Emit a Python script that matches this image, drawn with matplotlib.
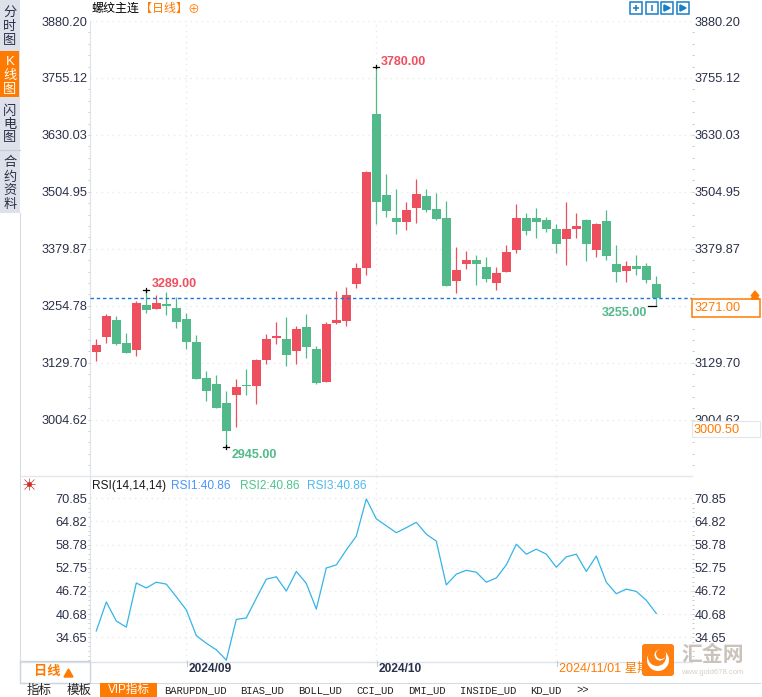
import matplotlib
matplotlib.use('Agg')
import matplotlib.pyplot as plt
from matplotlib.patches import Rectangle, FancyBboxPatch, Circle, Polygon
from matplotlib.ticker import FixedLocator

plt.rcParams['font.family'] = ['Liberation Sans', 'Noto Sans CJK SC', 'DejaVu Sans']

W = 762
H = 697

opens = [3154, 3187, 3224, 3173, 3158, 3257, 3248, 3259, 3250, 3226,
         3175, 3096, 3083, 3041, 3059, 3081, 3079, 3136, 3184, 3182,
         3156, 3208, 3160, 3087, 3217, 3221, 3303, 3338, 3676, 3498,
         3448, 3439, 3470, 3496, 3467, 3448, 3309, 3347, 3355, 3340,
         3305, 3329, 3377, 3448, 3448, 3443, 3423, 3401, 3423, 3443,
         3377, 3441, 3347, 3331, 3342, 3342, 3303]
closes = [3168, 3232, 3171, 3151, 3261, 3246, 3261, 3255, 3219, 3175,
          3094, 3068, 3030, 2980, 3077, 3079, 3136, 3182, 3188, 3147,
          3204, 3164, 3085, 3215, 3224, 3279, 3338, 3549, 3483, 3463,
          3439, 3465, 3500, 3465, 3445, 3298, 3333, 3355, 3347, 3314,
          3327, 3373, 3448, 3419, 3439, 3423, 3390, 3423, 3430, 3390,
          3434, 3364, 3329, 3342, 3336, 3311, 3271]
highs = [3182, 3237, 3232, 3195, 3265, 3289, 3279, 3285, 3274, 3239,
         3191, 3112, 3103, 3068, 3094, 3116, 3138, 3193, 3219, 3230,
         3210, 3237, 3167, 3219, 3287, 3296, 3349, 3551, 3780, 3544,
         3511, 3483, 3533, 3511, 3502, 3485, 3384, 3375, 3366, 3362,
         3340, 3388, 3478, 3459, 3470, 3450, 3434, 3483, 3459, 3445,
         3437, 3465, 3388, 3353, 3366, 3349, 3320]
lows = [3134, 3172, 3169, 3151, 3145, 3239, 3248, 3235, 3206, 3160,
        3094, 3046, 3030, 2945, 2989, 3059, 3039, 3127, 3171, 3123,
        3127, 3140, 3083, 3087, 3215, 3210, 3294, 3322, 3434, 3450,
        3412, 3421, 3437, 3461, 3443, 3298, 3283, 3336, 3300, 3307,
        3289, 3329, 3371, 3410, 3404, 3417, 3371, 3344, 3404, 3353,
        3362, 3355, 3307, 3307, 3322, 3305, 3255]
rsi = [36.3, 43.85, 38.9, 37.3, 48.8, 47.5, 49.0, 48.5, 45.2, 41.8,
       35.1, 33.1, 31.4, 28.7, 39.3, 39.7, 44.8, 49.8, 50.4, 46.7,
       51.8, 48.7, 42.0, 52.7, 53.5, 57.4, 61.0, 70.7, 65.5, 63.7,
       61.9, 63.2, 64.6, 61.5, 59.7, 48.3, 51.1, 52.1, 51.6, 49.0,
       50.1, 53.5, 58.9, 56.3, 57.6, 56.3, 52.9, 55.6, 56.3, 51.8,
       55.8, 49.0, 46.0, 47.2, 46.6, 44.3, 40.86]
price_ticks = [3880.20, 3755.12, 3630.03, 3504.95, 3379.87, 3254.78, 3129.70, 3004.62]
rsi_ticks = [70.85, 64.82, 58.78, 52.75, 46.72, 40.68, 34.65]
date_labels = ['2024/09', '2024/10']
date_idx = [9, 28, 46]
last_price = 3271

RED = '#ee4f5f'
GREEN = '#52b98a'
ORANGE = '#ff7a00'
GRID = '#e9e9e9'
TXT = '#2b3048'
AXIS = '#dde3ea'


def box(left, top, right, bottom):
    return [left / W, 1 - bottom / H, (right - left) / W, (bottom - top) / H]


def style_axis(a, ticks):
    a.set_xlim(-0.63, 59.57)
    a.set_yticks(ticks)
    a.set_yticklabels(['%.2f' % t for t in ticks], fontsize=9.2, color=TXT)
    step = (ticks[0] - ticks[1]) / 5
    minor = [ticks[0] - step * i for i in range(len(ticks) * 5 + 3)]
    a.yaxis.set_minor_locator(FixedLocator(minor))
    a.tick_params(axis='y', which='major', left=False, right=False, length=0,
                  labelleft=True, labelright=True, pad=2)
    a.tick_params(axis='y', which='minor', left=True, right=True, length=1.5,
                  width=0.7, color='#c4c8cf')
    a.set_xticks(date_idx)
    a.tick_params(axis='x', bottom=False, labelbottom=False)
    a.grid(True, axis='both', linestyle=(0, (1, 3)), color=GRID, linewidth=1)
    a.set_axisbelow(True)
    for s in ['top', 'right', 'bottom']:
        a.spines[s].set_visible(False)
    a.spines['left'].set_color(AXIS)


fig = plt.figure(figsize=(W / 100, H / 100), dpi=100, facecolor='white')

# price panel
ax = fig.add_axes(box(90, 21, 692, 476))
xs = list(range(len(opens)))
colors = [RED if c >= o else GREEN for o, c in zip(opens, closes)]
ax.vlines(xs, lows, highs, colors=colors, linewidth=0.9, zorder=3)
ax.bar(xs, [abs(c - o) for o, c in zip(opens, closes)],
       bottom=[min(o, c) for o, c in zip(opens, closes)],
       width=0.9, color=colors, linewidth=0, zorder=4)
ax.set_ylim(2881, 3880.2)
style_axis(ax, price_ticks)
# the 3271 box hides this right-hand label in the reference
ax.yaxis.get_major_ticks()[5].label2.set_visible(False)
ax.axhline(last_price, color='#1b78d8', linewidth=1, linestyle=(0, (2.5, 2)), zorder=5)

# high / low markers
i_hi = highs.index(max(highs))
i_lo = lows.index(min(lows))
ax.plot([i_hi - 0.3, i_hi + 0.3], [highs[i_hi]] * 2, color='k', lw=0.9, zorder=6)
ax.plot([i_hi, i_hi], [highs[i_hi] - 4, highs[i_hi] + 4], color='k', lw=0.9, zorder=6)
ax.text(i_hi + 0.45, highs[i_hi] + 10, '%.2f' % highs[i_hi], color=RED, fontsize=9,
        fontweight='bold', va='center', ha='left')
ax.plot([5 - 0.3, 5 + 0.3], [3289, 3289], color='k', lw=0.9, zorder=6)
ax.plot([5, 5], [3285, 3293], color='k', lw=0.9, zorder=6)
ax.text(5.5, 3303, '3289.00', color=RED, fontsize=9, fontweight='bold', va='center', ha='left')
ax.plot([i_lo - 0.3, i_lo + 0.3], [lows[i_lo]] * 2, color='k', lw=0.9, zorder=6)
ax.plot([i_lo, i_lo], [lows[i_lo] - 4, lows[i_lo] + 4], color='k', lw=0.9, zorder=6)
ax.text(i_lo + 0.5, lows[i_lo] - 18, '%.2f' % lows[i_lo], color=GREEN, fontsize=9,
        fontweight='bold', va='center', ha='left')
ax.plot([55.2, 56], [3255, 3255], color='k', lw=0.9, zorder=6)
ax.text(55.1, 3238, '3255.00', color=GREEN, fontsize=9, fontweight='bold', va='center', ha='right')

# RSI panel
ax2 = fig.add_axes(box(90, 476, 692, 661))
ax2.plot(xs, rsi, color='#35b4e8', linewidth=0.9)
ax2.set_ylim(28.48, 76.66)
style_axis(ax2, rsi_ticks)

# window chrome drawn in pixel coordinates on top
ov = fig.add_axes([0, 0, 1, 1], zorder=10)
ov.set_xlim(0, W)
ov.set_ylim(H, 0)
ov.axis('off')


def rect(x0, y0, x1, y1, fc='none', ec='none', lw=0.8, z=2):
    ov.add_patch(Rectangle((x0, y0), x1 - x0, y1 - y0, facecolor=fc, edgecolor=ec, linewidth=lw, zorder=z))


def label(x, y, s, **kw):
    kw.setdefault('va', 'center')
    kw.setdefault('ha', 'left')
    kw.setdefault('fontsize', 8.64)
    kw.setdefault('color', TXT)
    ov.text(x, y, s, zorder=kw.pop('z', 5), **kw)


# left sidebar
rect(0, 0, 20, 213, fc='#dfe1ea')
rect(0, 213, 20, 697, fc='white')
ov.plot([19.5, 19.5], [213, 683], color='#d4dbe3', lw=0.8)
rect(0, 51, 19, 97, fc=ORANGE, z=3)
ov.plot([0, 20], [149.5, 149.5], color='#c9ccd6', lw=0.8, zorder=3)
side = [('分', 13, TXT), ('时', 27, TXT), ('图', 41, TXT),
        ('K', 62, 'white'), ('线', 76, 'white'), ('图', 90, 'white'),
        ('闪', 112, TXT), ('电', 125, TXT), ('图', 138, TXT),
        ('合', 163, TXT), ('约', 178, TXT), ('资', 191, TXT), ('料', 205, TXT)]
for s, y, c in side:
    label(10, y, s, color=c, fontsize=9.5, ha='center', z=6)

# header
label(92, 9, '螺纹主连', color='black')
label(140, 9, '【日线】', color=ORANGE)
label(187, 10, '⊕', color=ORANGE, fontsize=8.5)

# toolbar icons
for x0, g in zip([630, 646, 661, 677], ['+', '|', '>', '>']):
    rect(x0, 2, x0 + 12, 14, ec='#1a7fc4', lw=1.1)
    ov.plot([x0 + 6], [8], marker=g, ms=5, color='#1a7fc4', mew=1.1, zorder=5)

# panel separators
ov.plot([20, 692], [476, 476], color='#e3e6ea', lw=1)
ov.plot([20, 692], [661.5, 661.5], color=AXIS, lw=1)
ov.plot([20, 760], [683, 683], color='#d4dbe3', lw=0.8)
ov.plot([29], [484], marker='o', ms=2.5, color='#c9302c', zorder=5)
ov.plot([29], [484], marker='+', ms=9, mec='#c9302c', mew=0.5, zorder=5)
ov.plot([29], [484], marker='x', ms=7, mec='#c9302c', mew=0.5, zorder=5)

# RSI legend
label(92, 486, 'RSI(14,14,14)', color='#1b1b1b', fontsize=8.6)
label(171, 486, 'RSI1:40.86', color='#4c94f5', fontsize=8.6)
label(240, 486, 'RSI2:40.86', color='#4fc48f', fontsize=8.6)
label(307, 486, 'RSI3:40.86', color='#4db8ee', fontsize=8.6)

# right side price boxes
rect(692, 299, 760, 317, fc='white', ec=ORANGE, lw=1.1, z=4)
label(695, 308, '%.2f' % last_price, color=ORANGE, fontsize=9.2)
ov.add_patch(Polygon([[751, 296], [755, 291], [759, 296]], color=ORANGE, zorder=5))
ov.add_patch(Polygon([[751, 299], [755, 294], [759, 299]], color=ORANGE, zorder=5))
rect(692, 421, 760, 437, fc='white', ec='#e3e6ea', lw=0.8, z=4)
label(694, 430, '3000.50', color=ORANGE, fontsize=9.2)

# date axis
rect(20, 661, 90, 683, ec='#ccd5de', lw=1, z=3)
label(34, 672, '日线', color=ORANGE, fontsize=9.5, fontweight='bold')
ov.add_patch(Polygon([[64, 677], [68.5, 669], [73, 677]], color=ORANGE, zorder=5))
for x, s in zip([186.7, 376.7], date_labels):
    ov.plot([x, x], [661, 666], color='#c4ccd6', lw=0.8)
    label(x + 1.5, 669, s, fontsize=8.6, fontweight='bold')
ov.plot([556.7, 556.7], [661, 666], color='#c4ccd6', lw=0.8)
label(559, 669, '2024/11/01 星期五', color=ORANGE, fontsize=9)

# bottom tabs
tabs = [('指标', 20, 59), ('模板', 59, 99), ('VIP指标', 100, 157), ('BARUPDN_UD', 157, 233),
        ('BIAS_UD', 233, 291), ('BOLL_UD', 291, 349), ('CCI_UD', 349, 401), ('DMI_UD', 401, 453),
        ('INSIDE_UD', 453, 523), ('KD_UD', 523, 569), ('>>', 569, 597)]
for s, x0, x1 in tabs:
    if s == 'VIP指标':
        rect(x0, 683, x1, 697, fc=ORANGE, z=3)
        label((x0 + x1) / 2, 690, s, color='white', fontsize=8.4, ha='center')
    else:
        cjk = s == '指标' or s == '模板'
        rect(x1 - 0.5, 683, x1, 697, fc='#d0d6de', z=3)
        label((x0 + x1) / 2, 690, s, color='#222222', ha='center', fontsize=9 if cjk else 7.6,
              family=['Noto Sans CJK SC'] if cjk else ['Liberation Mono'])

# watermark
ov.add_patch(FancyBboxPatch((642, 644), 32, 32, boxstyle='round,pad=0,rounding_size=3',
                            fc='#ff7f11', ec='none', zorder=6))
ov.add_patch(Circle((658, 660), 11, fc='white', ec='none', zorder=7))
ov.add_patch(Circle((657, 657), 9, fc='#ff7f11', ec='none', zorder=7))
ov.add_patch(Circle((660, 655), 5.5, fc='white', ec='none', zorder=7))
ov.add_patch(Circle((661, 654), 5, fc='#ff7f11', ec='none', zorder=7))
label(681, 655, '汇金网', color='#c9c3bb', fontsize=15, fontweight='bold', z=6)
label(681, 672, 'www.gold678.com', color='#d4cfc8', fontsize=5.5, z=6)

fig.savefig('out.png', dpi=100)
